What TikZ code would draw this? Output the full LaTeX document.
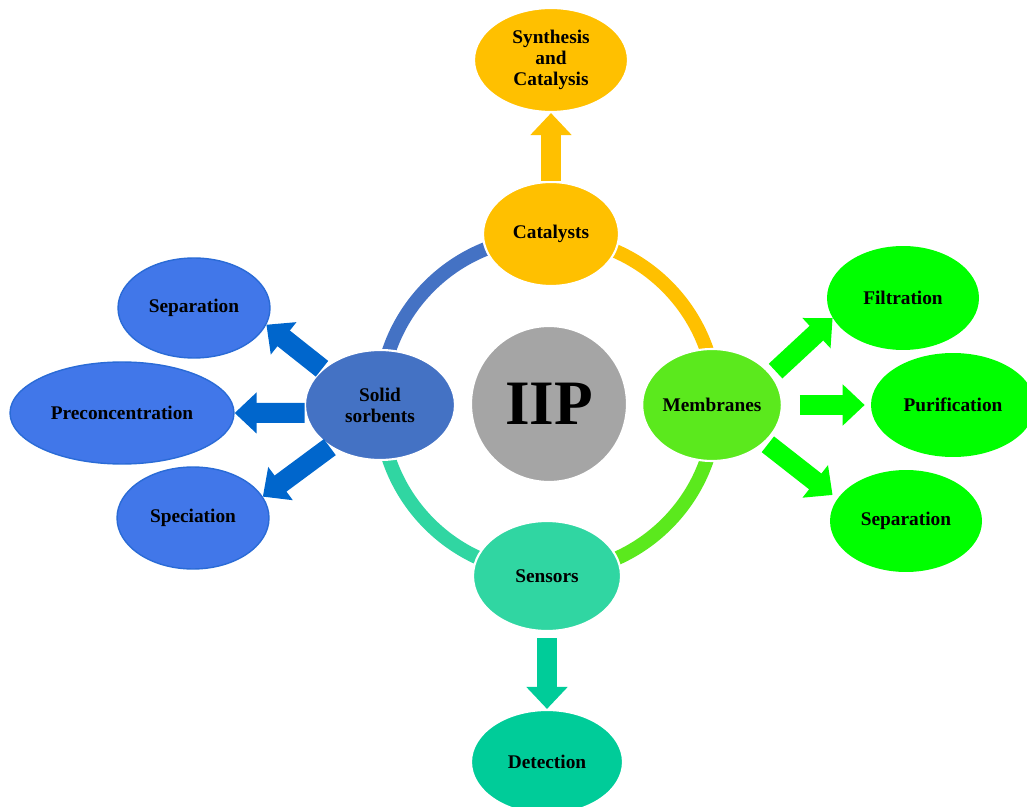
\documentclass[tikz,border=0pt]{standalone}
\usepackage{fontspec}
\setmainfont{Liberation Serif}
\usepackage{xcolor}
\usepackage{tikz}
\usetikzlibrary{arrows.meta,shapes.geometric}

\definecolor{catgold}{HTML}{FFC000}
\definecolor{sorbblue}{HTML}{4472C4}
\definecolor{membgreen}{HTML}{5BE91D}
\definecolor{sensteal}{HTML}{30D6A2}
\definecolor{detteal}{HTML}{00CC99}
\definecolor{iipgray}{HTML}{A5A5A5}
\definecolor{leafblue}{HTML}{4177E9}
\definecolor{leafedge}{HTML}{2A6BD6}
\definecolor{flowblue}{HTML}{0066CC}
\definecolor{leafgreen}{HTML}{00FF00}

\begin{document}
\begin{tikzpicture}[
    x=0.02cm, y=-0.02cm,
    font=\fontsize{11}{12}\selectfont\bfseries,
    hub/.style={ellipse,draw=white,line width=1.2pt,inner sep=0pt,align=center},
    bleaf/.style={ellipse,draw=leafedge,line width=0.8pt,fill=leafblue,inner sep=0pt,align=center},
    gleaf/.style={ellipse,fill=leafgreen,inner sep=0pt,align=center},
    ring/.style={line width=0.28cm},
    fat/.style={-{Triangle[length=0.44cm,width=0.8cm]},line width=0.4cm}
]
\useasboundingbox (0,0) rectangle (1027,807);
\clip (0,0) rectangle (1027,807);

% ring behind the hubs
\coordinate (c) at (548,405);
\draw[ring,sorbblue] ([shift={(180:3.36cm)}]c) arc[start angle=180,end angle=90,radius=3.36cm];
\draw[ring,catgold] ([shift={(90:3.36cm)}]c) arc[start angle=90,end angle=0,radius=3.36cm];
\draw[ring,membgreen] ([shift={(0:3.36cm)}]c) arc[start angle=0,end angle=-90,radius=3.36cm];
\draw[ring,sensteal] ([shift={(-90:3.36cm)}]c) arc[start angle=-90,end angle=-180,radius=3.36cm];

\node[circle,draw=white,line width=1.2pt,fill=iipgray,minimum size=3.12cm,inner sep=0pt,
      font=\fontsize{36}{40}\selectfont\bfseries] (iip) at (549,404) {IIP};

\node[hub,fill=catgold,minimum width=2.72cm,minimum height=2.08cm] (cat) at (551,234) {Catalysts};
\node[hub,fill=sorbblue,minimum width=3.0cm,minimum height=2.2cm] (sorb) at (380,405) {Solid\\sorbents};
\node[hub,fill=membgreen,minimum width=2.64cm,minimum height=2.24cm] (memb) at (712,405) {Membranes};
\node[hub,fill=sensteal,minimum width=2.96cm,minimum height=2.2cm] (sens) at (547,576) {Sensors};

\node[hub,fill=catgold,minimum width=3.08cm,minimum height=2.08cm] (synth) at (551,60) {Synthesis\\and\\Catalysis};
\node[hub,fill=detteal,minimum width=3.04cm,minimum height=2.08cm] (det) at (547,762) {Detection};

\node[bleaf,minimum width=3.04cm,minimum height=2.0cm] (sepL) at (194,308) {Separation};
\node[bleaf,minimum width=4.48cm,minimum height=2.04cm] (precon) at (122,413) {Preconcentration};
\node[bleaf,minimum width=3.04cm,minimum height=2.04cm] (spec) at (193,518) {Speciation};

\node[gleaf,minimum width=3.04cm,minimum height=2.08cm] (filt) at (903,298) {Filtration};
\node[gleaf,minimum width=3.28cm,minimum height=2.08cm] (puri) at (953,405) {Purification};
\node[gleaf,minimum width=3.04cm,minimum height=2.04cm] (sepR) at (906,521) {Separation};

\draw[fat,catgold] (cat) -- (synth);
\draw[fat,detteal,shorten <=0.12cm] (sens) -- (det);
\draw[fat,flowblue] (sorb.148) -- (sepL.-13);
\draw[fat,flowblue] (sorb.186) -- (precon.east);
\draw[fat,flowblue] (sorb.220) -- (spec.17);
\draw[fat,leafgreen,shorten <=0.1cm] (memb.27) -- (filt.196);
\draw[fat,leafgreen,shorten <=0.34cm,shorten >=0.12cm] (memb.east) -- (puri.west);
\draw[fat,leafgreen,shorten <=0.06cm,shorten >=0.12cm] (memb.-35) -- (sepR.162);
\end{tikzpicture}
\end{document}
